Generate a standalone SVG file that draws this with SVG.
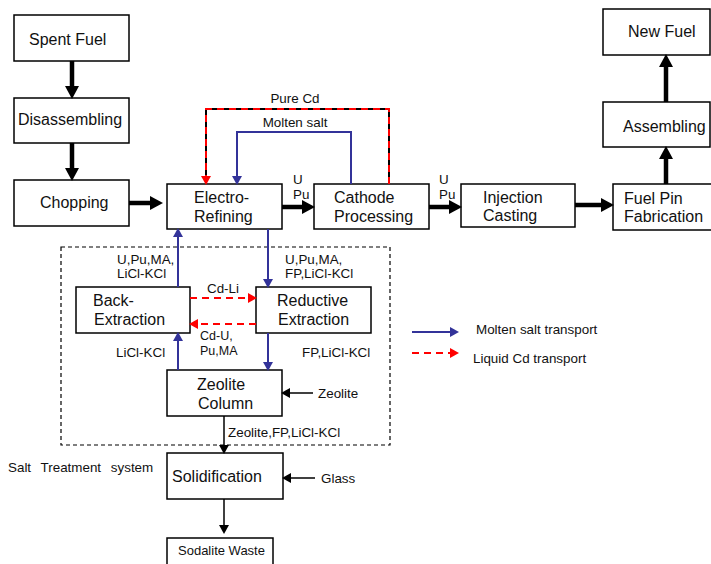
<svg xmlns="http://www.w3.org/2000/svg" width="711" height="564" viewBox="0 0 711 564">
<style>
.box{fill:#fff;stroke:#000;stroke-width:1.5}
.t{font-family:"Liberation Sans",Arial,sans-serif;font-size:16px;fill:#111}
.s{font-family:"Liberation Sans",Arial,sans-serif;font-size:13.4px;fill:#111}
.thick{stroke:#000;stroke-width:4.5;fill:none}
.thin{stroke:#000;stroke-width:1.5;fill:none}
.blue{stroke:#333399;stroke-width:2;fill:none}
.red{stroke:#ff0000;stroke-width:2;fill:none;stroke-dasharray:7 5}
</style>
<defs>
<marker id="ah" markerUnits="userSpaceOnUse" markerWidth="13" markerHeight="14" refX="6" refY="7" orient="auto"><path d="M0,0 L13,7 L0,14 z" fill="#000"/></marker>
<marker id="ab" markerUnits="userSpaceOnUse" markerWidth="9" markerHeight="10" refX="4" refY="5" orient="auto"><path d="M0,0 L9,5 L0,10 z" fill="#333399"/></marker>
<marker id="ar" markerUnits="userSpaceOnUse" markerWidth="9" markerHeight="10" refX="4" refY="5" orient="auto"><path d="M0,0 L9,5 L0,10 z" fill="#ff0000"/></marker>
<marker id="ak" markerUnits="userSpaceOnUse" markerWidth="9" markerHeight="10" refX="4" refY="5" orient="auto"><path d="M0,0 L9,5 L0,10 z" fill="#000"/></marker>
</defs>

<rect x="61" y="247" width="329" height="198" fill="none" stroke="#000" stroke-width="1.2" stroke-dasharray="4 3"/>
<text class="s" x="8" y="472" word-spacing="6">Salt Treatment system</text>

<g id="spent-fuel"><rect class="box" x="14" y="15" width="115" height="46"/><text class="t" x="29" y="45">Spent Fuel</text></g>
<g id="disassembling"><rect class="box" x="14" y="98" width="115" height="45"/><text class="t" x="18" y="125">Disassembling</text></g>
<g id="chopping"><rect class="box" x="14" y="180" width="115" height="46"/><text class="t" x="40" y="208">Chopping</text></g>
<g id="electro-refining"><rect class="box" x="167" y="184" width="115" height="45"/><text class="t" x="194" y="203">Electro-</text><text class="t" x="194" y="222">Refining</text></g>
<g id="cathode-processing"><rect class="box" x="314" y="184" width="115" height="45"/><text class="t" x="334" y="203">Cathode</text><text class="t" x="334" y="222">Processing</text></g>
<g id="injection-casting"><rect class="box" x="461" y="184" width="114" height="43"/><text class="t" x="483" y="203">Injection</text><text class="t" x="483" y="221">Casting</text></g>
<g id="fuel-pin"><rect class="box" x="613" y="184" width="110" height="46"/><text class="t" x="624" y="204">Fuel Pin</text><text class="t" x="624" y="222">Fabrication</text></g>
<g id="assembling"><rect class="box" x="603" y="102" width="107" height="45"/><text class="t" x="623" y="132">Assembling</text></g>
<g id="new-fuel"><rect class="box" x="603" y="9" width="107" height="46"/><text class="t" x="628" y="37">New Fuel</text></g>
<g id="back-extraction"><rect class="box" x="76" y="287" width="114" height="46"/><text class="t" x="93" y="306">Back-</text><text class="t" x="94" y="325">Extraction</text></g>
<g id="reductive-extraction"><rect class="box" x="256" y="287" width="115" height="46"/><text class="t" x="277" y="306">Reductive</text><text class="t" x="278" y="325">Extraction</text></g>
<g id="zeolite-column"><rect class="box" x="167" y="370" width="115" height="46"/><text class="t" x="197" y="390">Zeolite</text><text class="t" x="198" y="409">Column</text></g>
<g id="solidification"><rect class="box" x="167" y="453" width="116" height="46"/><text class="t" x="172" y="482">Solidification</text></g>
<g id="sodalite-waste"><rect class="box" x="167" y="538" width="106" height="40"/><text class="s" x="178" y="555" style="font-size:13px">Sodalite Waste</text></g>

<g id="connectors">
<line class="thick" x1="72" y1="61" x2="72" y2="92" marker-end="url(#ah)"/>
<line class="thick" x1="72" y1="143" x2="72" y2="174" marker-end="url(#ah)"/>
<line class="thick" x1="129" y1="203" x2="156" y2="203" marker-end="url(#ah)"/>
<line class="thick" x1="282" y1="207" x2="308" y2="207" marker-end="url(#ah)"/>
<line class="thick" x1="429" y1="207" x2="455" y2="207" marker-end="url(#ah)"/>
<line class="thick" x1="575" y1="205" x2="607" y2="205" marker-end="url(#ah)"/>
<line class="thick" x1="666" y1="184" x2="666" y2="153" marker-end="url(#ah)"/>
<line class="thick" x1="666" y1="102" x2="666" y2="61" marker-end="url(#ah)"/>
<path d="M389,184 V109 H206 V180" stroke="#000" stroke-width="2" fill="none"/>
<path class="red" d="M389,184 V109 H206 V180" marker-end="url(#ar)"/>
<path class="blue" d="M351,184 V132 H237 V180" marker-end="url(#ab)"/>
<line class="blue" x1="178" y1="287" x2="178" y2="233" marker-end="url(#ab)"/>
<line class="blue" x1="268" y1="229" x2="268" y2="283" marker-end="url(#ab)"/>
<line class="blue" x1="178" y1="370" x2="178" y2="337" marker-end="url(#ab)"/>
<line class="blue" x1="268" y1="333" x2="268" y2="366" marker-end="url(#ab)"/>
<line class="red" x1="190" y1="298" x2="252" y2="298" marker-end="url(#ar)"/>
<line class="red" x1="256" y1="324" x2="194" y2="324" marker-end="url(#ar)"/>
<line class="thin" x1="313" y1="393" x2="286" y2="393" marker-end="url(#ak)"/>
<line class="thin" x1="224" y1="416" x2="224" y2="449" marker-end="url(#ak)"/>
<line class="thin" x1="315" y1="478" x2="287" y2="478" marker-end="url(#ak)"/>
<line class="thin" x1="224" y1="499" x2="224" y2="529" marker-end="url(#ak)"/>
<line class="blue" x1="412" y1="332" x2="454" y2="332" marker-end="url(#ab)"/>
<line class="red" x1="412" y1="353" x2="454" y2="353" marker-end="url(#ar)"/>
</g>

<g id="labels">
<text class="s" x="295" y="103" text-anchor="middle">Pure Cd</text>
<text class="s" x="295" y="127" text-anchor="middle">Molten salt</text>
<text class="s" x="293" y="184">U</text>
<text class="s" x="293" y="199">Pu</text>
<text class="s" x="439" y="184">U</text>
<text class="s" x="439" y="199">Pu</text>
<text class="s" x="117" y="264">U,Pu,MA,</text>
<text class="s" x="117" y="278">LiCl-KCl</text>
<text class="s" x="285" y="264">U,Pu,MA,</text>
<text class="s" x="285" y="278">FP,LiCl-KCl</text>
<text class="s" x="223" y="293" text-anchor="middle">Cd-Li</text>
<text class="s" x="200" y="340" style="font-size:12.5px">Cd-U,</text>
<text class="s" x="200" y="354.5" style="font-size:12.5px">Pu,MA</text>
<text class="s" x="116" y="357">LiCl-KCl</text>
<text class="s" x="302" y="357">FP,LiCl-KCl</text>
<text class="s" x="318" y="398">Zeolite</text>
<text class="s" x="228" y="437">Zeolite,FP,LiCl-KCl</text>
<text class="s" x="321" y="483">Glass</text>
<text class="s" x="476" y="334">Molten salt transport</text>
<text class="s" x="473" y="363">Liquid Cd transport</text>
</g>
</svg>
